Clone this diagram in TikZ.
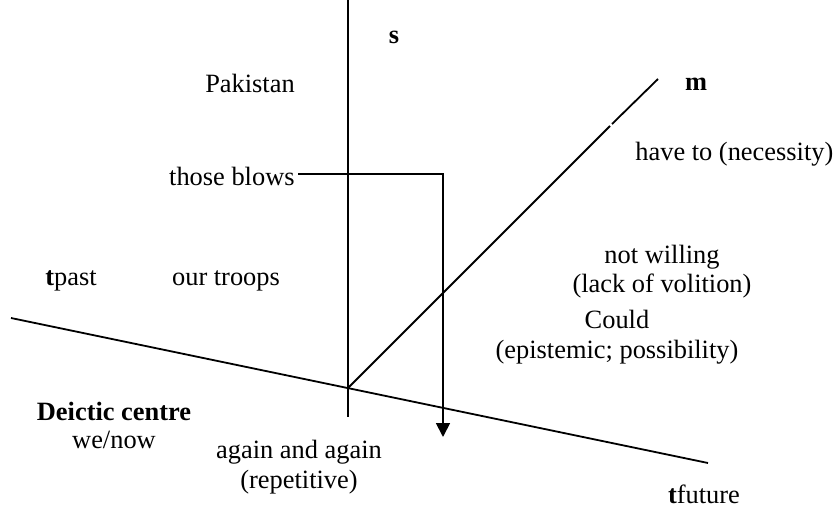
\documentclass[tikz,border=0pt]{standalone}
\usepackage{fontspec}
\setmainfont{Liberation Serif}
\usepackage{tikz}
\usetikzlibrary{calc, positioning, arrows.meta}

\begin{document}
\begin{tikzpicture}[
  x=0.5pt, y=-0.5pt,
  lbl/.style={inner sep=0pt, anchor=base, font=\fontsize{13.2}{14.5}\selectfont},
  axis/.style={line width=0.9pt},
  arr/.style={-{Triangle[length=7pt, width=7pt]}, line width=0.9pt}
]
\useasboundingbox (0,0) rectangle (836,509);

% axes
\coordinate (origin) at (348,388);
\coordinate (stop) at (348,0);
\coordinate (sbot) at (348,417);
\coordinate (tpastend) at (11,318);
\coordinate (tfutend) at (708,463);
\coordinate (mgapa) at (610,126);
\coordinate (mgapb) at (612,124);
\coordinate (mend) at (658,79);

\draw[axis] (stop) -- (sbot);
\draw[axis] (tpastend) -- (tfutend);
\draw[axis] (origin) -- (mgapa);
\draw[axis] (mgapb) -- (mend);

% labels
\node[lbl] (s) at (394,43) {\textbf{s}};
\node[lbl] (m) at (696,90) {\textbf{m}};
\node[lbl] (pakistan) at (250,92) {Pakistan};
\node[lbl, anchor=base west] (haveto) at (635,160) {have to (necessity)};
\node[lbl, anchor=base east] (blows) at (295,185) {those blows};
\node[lbl] (willing) at (662,263) {not willing};
\node[lbl] (volition) at ($(willing.base)+(0,29)$) {(lack of volition)};
\node[lbl] (could) at (617,328) {Could};
\node[lbl] (epistemic) at ($(could.base)+(0,30)$) {(epistemic; possibility)};
\node[lbl] (tpast) at (71,285) {\textbf{t}past};
\node[lbl] (troops) at (226,285) {our troops};
\node[lbl] (deictic) at (114,420) {\textbf{Deictic centre}};
\node[lbl] (wenow) at ($(deictic.base)+(0,28)$) {we/now};
\node[lbl] (again) at (299,458) {again and again};
\node[lbl] (repetitive) at ($(again.base)+(0,30)$) {(repetitive)};
\node[lbl] (tfuture) at (704,503) {\textbf{t}future};

\coordinate (arrend) at (443,437);
\draw[arr] ([xshift=1.5pt]blows.base east |- 0,174) -| (arrend);

\end{tikzpicture}
\end{document}
